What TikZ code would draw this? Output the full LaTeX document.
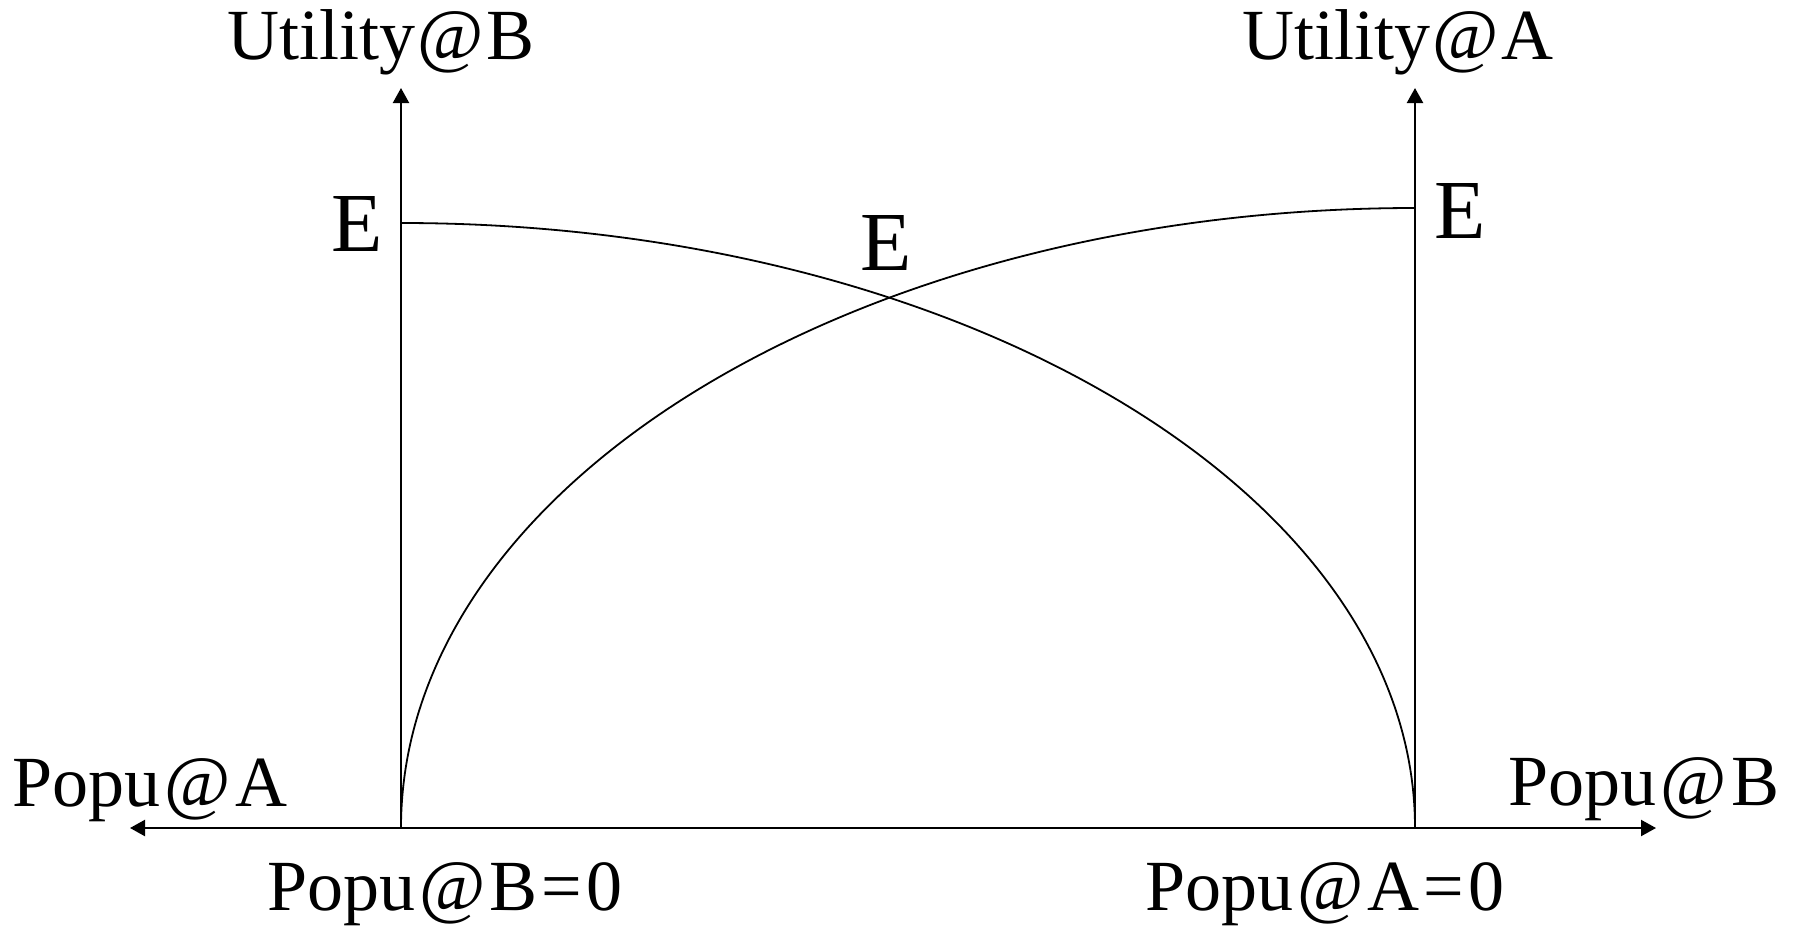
\documentclass[tikz,border=0pt]{standalone}
\usepackage{fontspec}
\setmainfont{Liberation Serif}
\usetikzlibrary{arrows.meta}
\newcommand{\pat}{\kern2pt@\kern2pt}
\newcommand{\uat}{\kern1.2pt@\kern1.2pt}
\newcommand{\peq}{\kern2pt=\kern2pt}
\begin{document}
\begin{tikzpicture}[x=0.5pt,y=-0.5pt,
  axis/.style={line width=1.1pt,-{Triangle[length=7.5pt,width=8pt]}},
  curve/.style={line width=0.9pt},
  lbl/.style={font=\fontsize{36pt}{40pt}\selectfont,inner sep=0pt,anchor=base},
  elbl/.style={font=\fontsize{42pt}{46pt}\selectfont,inner sep=0pt,anchor=base}]
\useasboundingbox[fill=white] (0,0) rectangle (1795,927);
\coordinate (O1) at (401,828);
\coordinate (O2) at (1415,828);
\coordinate (Ltop) at (401,88);
\coordinate (Rtop) at (1415,88);
\coordinate (Lend) at (130,828);
\coordinate (Rend) at (1656,828);
\coordinate (LE) at (401,223);
\coordinate (RE) at (1415,208);
\draw[axis] (O1) -- (Ltop);
\draw[axis] (O2) -- (Rtop);
\draw[axis,{Triangle[length=7.5pt,width=8pt]}-{Triangle[length=7.5pt,width=8pt]}] (Lend) -- (Rend);
\draw[curve] (LE) arc[start angle=90, end angle=0, x radius=507pt, y radius=302.5pt];
\draw[curve] (O1) arc[start angle=180, end angle=90, x radius=507pt, y radius=310pt];
\node[lbl] (uB) at (381,59) {Utility\uat B};
\node[lbl] (uA) at (1398,59) {Utility\uat A};
\node[elbl] (eL) at (357,251) {E};
\node[elbl] (eM) at (886,270) {E};
\node[elbl] (eR) at (1460,238) {E};
\node[lbl] (pA) at (150,806) {Popu\pat A};
\node[lbl] (pB) at (1644,805) {Popu\pat B};
\node[lbl] (pB0) at (445,910) {Popu\pat B\peq 0};
\node[lbl] (pA0) at (1325,910) {Popu\pat A\peq 0};
\end{tikzpicture}
\end{document}
